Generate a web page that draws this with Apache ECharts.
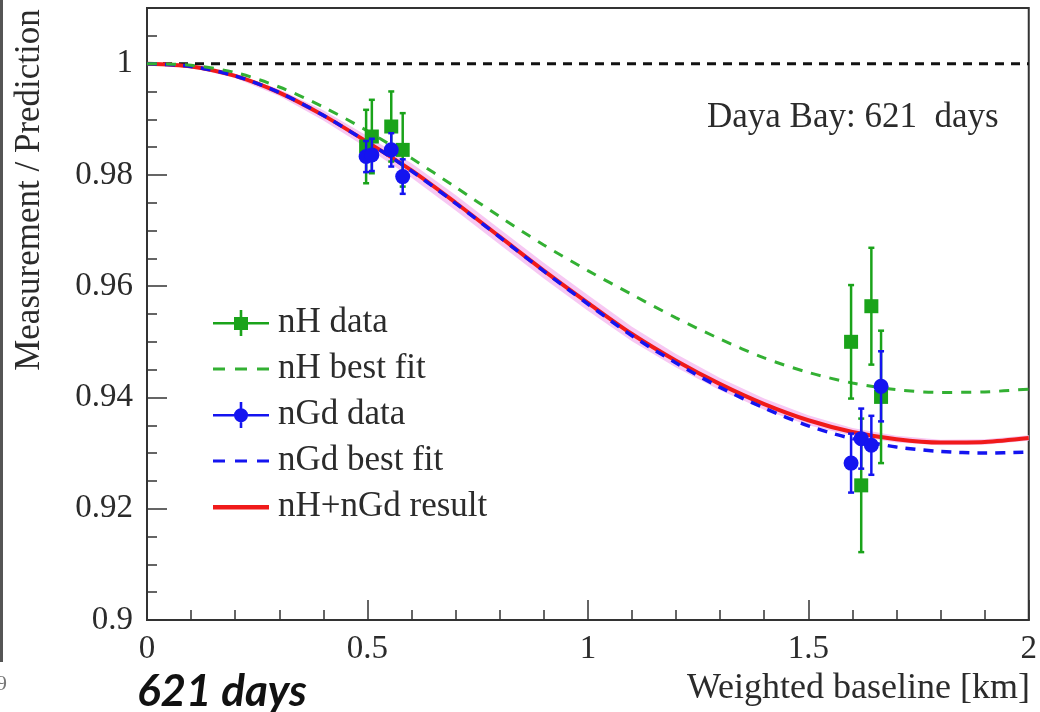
<!DOCTYPE html>
<html>
<head>
<meta charset="utf-8">
<script src="https://cdn.jsdelivr.net/npm/echarts@6/dist/echarts.min.js"></script>
<style>
html,body{margin:0;padding:0;background:#fff;}
#c{width:1040px;height:712px;}
</style>
</head>
<body>
<div id="c"></div>
<script>
// ---------------- data ----------------
const curveX = [0, 0.1, 0.2, 0.3, 0.4, 0.5, 0.6, 0.7, 0.8, 0.9, 1.0, 1.1, 1.2, 1.3, 1.4, 1.5, 1.6, 1.7, 1.8, 1.9, 2.0];
const resultFit = [1.0000, 0.9995, 0.9978, 0.9948, 0.9907, 0.9859, 0.9808, 0.9750, 0.9689, 0.9628, 0.9570, 0.9514, 0.9466, 0.9424, 0.9388, 0.9359, 0.9338, 0.9325, 0.9319, 0.9320, 0.9327];
const resultBandLow = [1.0000, 0.9993, 0.9974, 0.9942, 0.9898, 0.9848, 0.9795, 0.9736, 0.9675, 0.9614, 0.9556, 0.9501, 0.9454, 0.9413, 0.9378, 0.9350, 0.9331, 0.9319, 0.9314, 0.9315, 0.9322];
const resultBandHigh = [1.0000, 0.9997, 0.9982, 0.9954, 0.9916, 0.9870, 0.9821, 0.9764, 0.9703, 0.9642, 0.9584, 0.9527, 0.9478, 0.9435, 0.9398, 0.9368, 0.9345, 0.9331, 0.9324, 0.9325, 0.9332];
const nGdFit = [1.0000, 0.9995, 0.9978, 0.9948, 0.9907, 0.9859, 0.9807, 0.9749, 0.9688, 0.9627, 0.9568, 0.9511, 0.9462, 0.9418, 0.9381, 0.9349, 0.9326, 0.9311, 0.9303, 0.9300, 0.9302];
const nHFit = [1.0000, 0.9997, 0.9984, 0.9958, 0.9922, 0.9879, 0.9830, 0.9778, 0.9725, 0.9674, 0.9628, 0.9585, 0.9543, 0.9505, 0.9471, 0.9445, 0.9426, 0.9414, 0.9409, 0.9410, 0.9415];

const baselines = [0.497, 0.510, 0.554, 0.580, 1.597, 1.620, 1.643, 1.665];
const nHDataY   = [0.9851, 0.9869, 0.9887, 0.9845, 0.9500, 0.9242, 0.9564, 0.9401];
const nHDataErr = [0.0066, 0.0066, 0.0063, 0.0066, 0.0102, 0.0120, 0.0105, 0.0119];
const nGdDataY   = [0.9833, 0.9836, 0.9845, 0.9797, 0.9282, 0.9326, 0.9314, 0.9420];
const nGdDataErr = [0.0028, 0.0029, 0.0030, 0.0031, 0.0053, 0.0054, 0.0053, 0.0063];

const refLineX = [0, 2];
const refLineY = [1, 1];

const xTickValues = [0, 0.5, 1, 1.5, 2];
const xTickLabels = ['0', '0.5', '1', '1.5', '2'];
const yTickValues = [0.9, 0.92, 0.94, 0.96, 0.98, 1.0];
const yTickLabels = ['0.9', '0.92', '0.94', '0.96', '0.98', '1'];

const legendNames = ['nH data', 'nH best fit', 'nGd data', 'nGd best fit', 'nH+nGd result'];
const annotationText = 'Daya Bay: 621  days';
const xTitle = 'Weighted baseline [km]';
const yTitle = 'Measurement / Prediction';
const cornerText = '621 days';

// ---------------- style ----------------
const GREEN = '#1aa31a';
const GREEN_FIT = '#33b033';
const BLUE = '#1414f0';
const RED = '#f01a1a';
const PINK = '#f7c8f3';
const SERIF = '"Liberation Serif", "Times New Roman", serif';
const TXT = '#2b2b2b';

function pairs(xs, ys) { return xs.map((x, i) => [x, ys[i]]); }
function labelFor(values, labels, v) {
  for (let i = 0; i < values.length; i++) if (Math.abs(values[i] - v) < 1e-6) return labels[i];
  return '';
}

function errorBarSeries(name, ys, errs, color, z) {
  return {
    type: 'custom', name: name, z: z, silent: true,
    xAxisIndex: 0, yAxisIndex: 0,
    data: baselines.map((x, i) => [x, ys[i] - errs[i], ys[i] + errs[i]]),
    encode: { x: 0, y: [1, 2] },
    renderItem: function (params, api) {
      const x = api.value(0);
      const lo = api.coord([x, api.value(1)]);
      const hi = api.coord([x, api.value(2)]);
      const cap = 3;
      const st = { stroke: color, lineWidth: 2.5, fill: null };
      return {
        type: 'group', children: [
          { type: 'line', shape: { x1: lo[0], y1: lo[1], x2: hi[0], y2: hi[1] }, style: st },
          { type: 'line', shape: { x1: lo[0] - cap, y1: lo[1], x2: lo[0] + cap, y2: lo[1] }, style: st },
          { type: 'line', shape: { x1: hi[0] - cap, y1: hi[1], x2: hi[0] + cap, y2: hi[1] }, style: st }
        ]
      };
    }
  };
}

// uncertainty band of the combined result: one polygon through the library's coordinate system
const bandSeries = {
  type: 'custom', name: 'result band', z: 1, silent: true,
  xAxisIndex: 0, yAxisIndex: 0,
  data: curveX.map((x, i) => [x, resultBandLow[i], resultBandHigh[i]]),
  encode: { x: 0, y: [1, 2] },
  renderItem: function (params, api) {
    if (params.dataIndex !== 0) return null;
    const upper = curveX.map((x, i) => api.coord([x, resultBandHigh[i]]));
    const lower = curveX.map((x, i) => api.coord([x, resultBandLow[i]])).reverse();
    return { type: 'polygon', shape: { points: upper.concat(lower) }, style: { fill: PINK, stroke: null } };
  }
};

const iconData = (shape) => 'path://M0,0L0.01,0Z M56,26L55.99,26Z ' + shape;
const iconNH = iconData('M0,12H56V14.5H0Z M26.7,0H29.3V26H26.7Z M21,7H35V20H21Z');
const iconNGd = iconData('M0,12H56V14.5H0Z M26.7,0H29.3V26H26.7Z M21,13.25A7,7,0,1,1,35,13.25A7,7,0,1,1,21,13.25Z');
const iconDash = iconData('M0,11.5H12V14.5H0Z M22,11.5H34V14.5H22Z M44,11.5H56V14.5H44Z');
const iconRes = iconData('M0,11H56V15.5H0Z');

const chart = echarts.init(document.getElementById('c'), null, { renderer: 'canvas' });

const option = {
  animation: false,
  backgroundColor: '#ffffff',
  grid: { left: 147, right: 10, top: 8, bottom: 92, show: true, borderColor: '#333', borderWidth: 2, backgroundColor: 'transparent' },
  xAxis: [{
    type: 'value', min: 0, max: 2, interval: 0.5,
    axisLine: { show: true, lineStyle: { color: '#333', width: 2 } },
    axisTick: { show: true, inside: true, length: 20, lineStyle: { color: '#333', width: 1.5 } },
    minorTick: { show: true, splitNumber: 5, length: 10, lineStyle: { color: '#333', width: 1.5 } },
    splitLine: { show: false },
    axisLabel: { margin: 13, fontFamily: SERIF, fontSize: 33, color: TXT,
      formatter: (v) => labelFor(xTickValues, xTickLabels, v) }
  }],
  yAxis: [{
    type: 'value', min: 0.9, max: 1.01, interval: 0.02,
    axisLine: { show: true, lineStyle: { color: '#333', width: 2 } },
    axisTick: { show: true, inside: true, length: 20, lineStyle: { color: '#333', width: 1.5 } },
    splitLine: { show: false },
    axisLabel: { margin: 14, fontFamily: SERIF, fontSize: 33, color: TXT, showMaxLabel: false,
      formatter: (v) => labelFor(yTickValues, yTickLabels, v) }
  }, {
    type: 'value', min: 0.9, max: 1.01, interval: 0.005, position: 'left', offset: 0,
    axisLine: { show: false },
    axisTick: { show: true, inside: true, length: 10, lineStyle: { color: '#333', width: 1.5 } },
    splitLine: { show: false },
    axisLabel: { show: false }
  }],
  legend: {
    orient: 'vertical', left: 208, top: 300,
    itemWidth: 56, itemHeight: 26, itemGap: 10,
    symbolKeepAspect: true,
    textStyle: { fontFamily: SERIF, fontSize: 35, color: TXT, lineHeight: 36, padding: [0, 0, 0, 4] },
    selectedMode: false,
    data: [
      { name: legendNames[0], icon: iconNH, itemStyle: { color: GREEN } },
      { name: legendNames[1], icon: iconDash, itemStyle: { color: GREEN_FIT } },
      { name: legendNames[2], icon: iconNGd, itemStyle: { color: BLUE } },
      { name: legendNames[3], icon: iconDash, itemStyle: { color: BLUE } },
      { name: legendNames[4], icon: iconRes, itemStyle: { color: RED } }
    ]
  },
  series: [
    bandSeries,
    { type: 'line', name: 'reference', data: pairs(refLineX, refLineY), symbol: 'none',
      lineStyle: { color: '#111', width: 3, type: [9, 7] }, silent: true, z: 2 },
    { type: 'line', name: legendNames[4], data: pairs(curveX, resultFit), symbol: 'none', smooth: 0.3,
      lineStyle: { color: RED, width: 4 }, itemStyle: { color: RED }, z: 3 },
    { type: 'line', name: legendNames[3], data: pairs(curveX, nGdFit), symbol: 'none', smooth: 0.3,
      lineStyle: { color: BLUE, width: 3.5, type: [10, 8] }, itemStyle: { color: BLUE }, z: 4 },
    { type: 'line', name: legendNames[1], data: pairs(curveX, nHFit), symbol: 'none', smooth: 0.3,
      lineStyle: { color: GREEN_FIT, width: 3, type: [10, 9] }, itemStyle: { color: GREEN_FIT }, z: 4 },
    errorBarSeries(legendNames[0], nHDataY, nHDataErr, GREEN, 5),
    { type: 'scatter', name: legendNames[0], data: pairs(baselines, nHDataY), symbol: 'rect', symbolSize: 14,
      itemStyle: { color: GREEN, opacity: 1 }, z: 6 },
    errorBarSeries(legendNames[2], nGdDataY, nGdDataErr, BLUE, 7),
    { type: 'scatter', name: legendNames[2], data: pairs(baselines, nGdDataY), symbol: 'circle', symbolSize: 15,
      itemStyle: { color: BLUE, opacity: 1 }, z: 8 }
  ],
  graphic: [
    { type: 'text', x: 707, y: 118, z: 100,
      style: { text: annotationText, font: '35px ' + SERIF, fill: TXT, align: 'left', verticalAlign: 'middle' } },
    { type: 'text', x: 30, y: 190, rotation: Math.PI / 2, z: 100,
      style: { text: yTitle, font: '35px ' + SERIF, fill: TXT, align: 'center', verticalAlign: 'middle' } },
    { type: 'text', x: 1030, y: 689, z: 100,
      style: { text: xTitle, font: '36px ' + SERIF, fill: TXT, align: 'right', verticalAlign: 'middle' } },
    { type: 'text', x: 137, y: 692, z: 100,
      style: { text: cornerText, font: 'italic bold 44px Lato, "Open Sans", sans-serif', fill: '#111', align: 'left', verticalAlign: 'middle' } },
    { type: 'rect', shape: { x: 0, y: 0, width: 3, height: 662 }, style: { fill: '#555' } },
    { type: 'text', x: -4, y: 684, style: { text: '9', font: '22px ' + SERIF, fill: '#777', align: 'left', verticalAlign: 'middle' } }
  ]
};
chart.setOption(option);
</script>
</body>
</html>
